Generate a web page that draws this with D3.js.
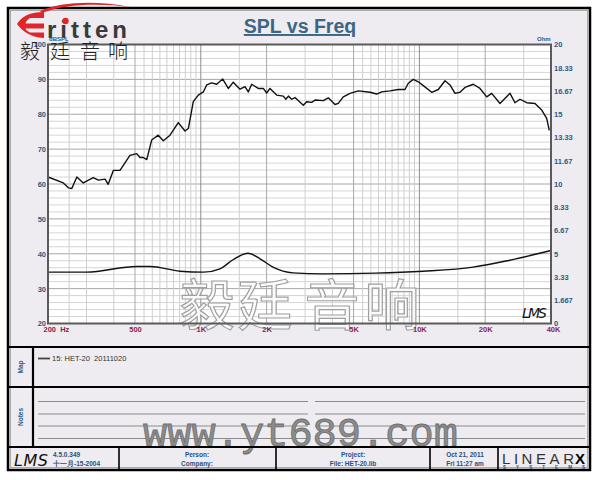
<!DOCTYPE html>
<html><head><meta charset="utf-8">
<script src="https://cdn.jsdelivr.net/npm/d3@7"></script>
<style>body{margin:0;background:#fff}svg{display:block}</style>
</head><body>
<svg id="c" width="600" height="480"></svg>
<script>
// ---- data ----
const splFreq = [200,235,248,257,271,290,322,340,365,377,398,427,474,509,527,546,566,596,639,674,723,789,847,877,924,974,1027,1064,1122,1182,1260,1336,1408,1511,1593,1649,1709,1832,1932,2002,2072,2224,2385,2450,2515,2606,2698,2944,3051,3217,3331,3634,3830,4111,4256,4487,4814,5255,5944,6377,6722,7338,8009,8594,8898,9380,9886,10420,11384,12203,13098,13804,14550,15336,16165,17648,18934,20319,21415,23376,25975,27375,28856,30961,33803,36273,38228,39283];
const splDb = [62.0,60.3,58.9,58.7,62.0,60.3,61.8,61.1,61.4,59.9,63.9,63.9,68.2,68.7,67.6,67.6,67.0,72.6,74.0,72.4,74.0,77.6,75.2,75.9,83.6,85.5,86.4,88.4,89.0,88.6,90.1,87.4,89.2,87.2,87.9,86.4,88.6,87.4,87.4,86.1,87.4,85.5,85.2,84.3,85.2,84.3,84.8,82.6,83.6,83.4,84.1,83.9,84.7,82.8,83.1,85.0,86.0,86.7,86.3,85.8,86.4,86.7,87.1,87.1,88.9,90.0,89.3,88.2,86.3,87.1,89.6,88.4,86.0,86.3,87.7,88.6,87.4,85.0,86.0,83.1,86.0,83.3,84.3,83.3,83.1,81.2,78.8,75.4];
const impFreq = [200,300,509,586,803,1030,1224,1404,1644,1866,2139,2642,3623,6300,10400,17600,25600,40000];
const impOhm = [3.68,3.68,4.09,4.09,3.75,3.68,3.92,4.57,5.04,4.64,4.04,3.63,3.56,3.61,3.75,4.04,4.52,5.23];
const dbTicks = [20,30,40,50,60,70,80,90,100];
const ohmTicks = [0,1.667,3.333,5,6.667,8.333,10,11.667,13.333,15,16.667,18.333,20];
const ohmLabels = ["0","1.667","3.33","5","6.67","8.33","10","11.67","13.33","15","16.67","18.33","20"];
const freqTicks = [200,500,1000,2000,5000,10000,20000,40000];
const freqLabels = ["200  Hz","500","1K","2K","5K","10K","20K","40K"];
const gridMajorF = [500,1000,2000,5000,10000,20000];
const gridMinorF = [250,300,400,550,600,650,700,750,800,850,900,950,1500,3000,4000,5500,6000,6500,7000,7500,8000,8500,9000,9500,15000,30000];
const legendText = "15: HET-20  20111020";

const svg = d3.select("#c");
const L=48,R=551,T=44.5,B=323.5;
const x = d3.scaleLog().domain([200,40000]).range([L,R]);
const yL = d3.scaleLinear().domain([20,100]).range([B,T]);
const yR = d3.scaleLinear().domain([0,20]).range([B,T]);
const blue="#2d5a85", maroon="#8a1f4f", panel="#eeecf0";
const nf = "'Liberation Sans Narrow','Liberation Sans',Arial,sans-serif";

// frame
svg.append("rect").attr("x",8).attr("y",8).attr("width",582).attr("height",462).attr("fill",panel).attr("stroke","#000").attr("stroke-width",2.5);
svg.append("rect").attr("x",10.5).attr("y",10.5).attr("width",577).attr("height",457).attr("fill","none").attr("stroke","#9a9a9a").attr("stroke-width",0.8);

// logo
const lg = svg.append("g");
lg.append("path").attr("d","M40,11 C60,2 95,0 130,7 C98,3 65,4 42,13 Z").attr("fill","#e0262b");
lg.append("path").attr("d","M44,12 C30,12 22,16 17,24 C22,31 30,37 44,38 L44,32.5 L30,32.5 C27,31 26,30 25.5,28.5 L44,28.5 L44,23.5 L25.5,23.5 C26,21 28,19 30,18 L44,18 Z").attr("fill","#e0262b");
lg.append("text").attr("x",47).attr("y",37.5).attr("font-family","'Liberation Sans',Arial,sans-serif").attr("font-weight","bold").attr("font-size",24).attr("fill","#3a3a3a").attr("textLength",80).attr("lengthAdjust","spacing").text("ritten");
lg.append("circle").attr("cx",65.5).attr("cy",21).attr("r",3.2).attr("fill","#e0262b");

// title
svg.append("text").attr("x",300).attr("y",33).attr("text-anchor","middle").attr("font-family","'Liberation Sans',Arial,sans-serif").attr("font-weight","bold").attr("font-size",19.5).attr("fill","#3c6685").attr("text-decoration","underline").text("SPL vs Freq");

// plot bg
svg.append("rect").attr("x",L).attr("y",T).attr("width",R-L).attr("height",B-T).attr("fill","#fff");

// grid
const g = svg.append("g");
for(let v=22; v<100; v+=2){
  g.append("line").attr("x1",L).attr("x2",R).attr("y1",yL(v)).attr("y2",yL(v)).attr("stroke", v%10===0?"#a6a6a6":"#d6d6d6").attr("stroke-width",1);
}
gridMinorF.forEach(f=>g.append("line").attr("x1",x(f)).attr("x2",x(f)).attr("y1",T).attr("y2",B).attr("stroke","#cfcfcf"));
gridMajorF.forEach(f=>g.append("line").attr("x1",x(f)).attr("x2",x(f)).attr("y1",T).attr("y2",B).attr("stroke",(f===1000||f===10000)?"#8e8e8e":"#a8a8a8"));

// watermark in plot
const wm = ["毅","廷","音","响"], wmx=[207,265,332,392];
wm.forEach((c,i)=>svg.append("text").attr("x",wmx[i]).attr("y",325).attr("text-anchor","middle").attr("font-family","'Noto Sans CJK SC',sans-serif").attr("font-size",55).attr("fill","#fbfbfb").attr("fill-opacity",0.85).attr("stroke","#a0a0a0").attr("stroke-width",1.2).text(c));

// curves
const lineSpl = d3.line().x((d,i)=>x(splFreq[i])).y((d,i)=>yL(splDb[i]));
svg.append("path").attr("d",lineSpl(splDb)).attr("fill","none").attr("stroke","#111").attr("stroke-width",1.4).attr("stroke-linejoin","round");
const lineImp = d3.line().x((d,i)=>x(impFreq[i])).y((d,i)=>yR(impOhm[i])).curve(d3.curveMonotoneX);
svg.append("path").attr("d",lineImp(impOhm)).attr("fill","none").attr("stroke","#111").attr("stroke-width",1.4);

// plot border
svg.append("rect").attr("x",L).attr("y",T).attr("width",R-L).attr("height",B-T).attr("fill","none").attr("stroke","#5a5a5a").attr("stroke-width",2);

// LMS in plot
svg.append("text").attr("x",522).attr("y",318).attr("font-family","'DejaVu Sans',sans-serif").attr("font-style","italic").attr("font-weight","300").attr("font-size",14).attr("fill","#111").attr("textLength",25).text("LMS");

// axes
const axL = d3.axisLeft(yL).tickValues(dbTicks).tickSize(0).tickPadding(2).tickFormat(d=>d);
const gl = svg.append("g").attr("transform",`translate(${L},0)`).call(axL);
const axR = d3.axisRight(yR).tickValues(ohmTicks).tickSize(0).tickPadding(3).tickFormat((d,i)=>ohmLabels[i]);
const gr = svg.append("g").attr("transform",`translate(${R},0)`).call(axR);
const axB = d3.axisBottom(x).tickValues(freqTicks).tickSize(0).tickPadding(3).tickFormat((d,i)=>freqLabels[i]);
const gb = svg.append("g").attr("transform",`translate(0,${B})`).call(axB);
[gl,gr,gb].forEach(a=>{a.select(".domain").remove();a.selectAll("text").attr("font-family",nf).attr("font-weight","bold").attr("font-size",7.5);});
gl.selectAll("text").attr("fill",blue);
gr.selectAll("text").attr("fill",blue);
gb.selectAll("text").attr("fill",maroon).style("white-space","pre");
gb.selectAll(".tick").filter(d=>d===200).select("text").attr("text-anchor","start").attr("dx",-5).attr("xml:space","preserve");
gb.selectAll(".tick").filter(d=>d===40000).select("text").attr("dx",2);
svg.append("text").attr("x",49).attr("y",41).attr("font-family",nf).attr("font-weight","bold").attr("font-size",6).attr("fill",blue).text("dBSPL");
svg.append("text").attr("x",537).attr("y",41).attr("font-family",nf).attr("font-weight","bold").attr("font-size",6).attr("fill",blue).text("Ohm");

// chinese title
const ct = ["毅","廷","音","响"], ctx=[20,50,80,108];
ct.forEach((c,i)=>svg.append("text").attr("x",ctx[i]).attr("y",59).attr("font-family","'Noto Sans CJK SC',sans-serif").attr("font-weight","300").attr("font-size",20).attr("fill","#222").text(c));

// panels
const pl = svg.append("g").attr("stroke","#000").attr("stroke-width",2.2);
[347,387,447].forEach(yy=>pl.append("line").attr("x1",8).attr("x2",590).attr("y1",yy).attr("y2",yy));
pl.append("line").attr("x1",33).attr("x2",33).attr("y1",347).attr("y2",447);
[119,276,430,498].forEach(xx=>pl.append("line").attr("x1",xx).attr("x2",xx).attr("y1",447).attr("y2",470).attr("stroke-width",1.6));
svg.append("text").attr("transform","translate(23,367) rotate(-90)").attr("text-anchor","middle").attr("font-family",nf).attr("font-weight","bold").attr("font-size",6.5).attr("fill",blue).text("Map");
svg.append("text").attr("transform","translate(23,417) rotate(-90)").attr("text-anchor","middle").attr("font-family",nf).attr("font-weight","bold").attr("font-size",6.5).attr("fill",blue).text("Notes");

// legend
svg.append("line").attr("x1",38).attr("x2",50).attr("y1",358.5).attr("y2",358.5).attr("stroke","#444").attr("stroke-width",1.8);
svg.append("text").attr("x",52).attr("y",361).attr("font-family",nf).attr("font-size",7.5).attr("fill","#333").attr("xml:space","preserve").text(legendText);

// notes lines
[401.5,414,426,438.5].forEach(yy=>{
  svg.append("line").attr("x1",38).attr("x2",308).attr("y1",yy).attr("y2",yy).attr("stroke","#8a8a8a").attr("stroke-width",1);
  svg.append("line").attr("x1",315).attr("x2",585).attr("y1",yy).attr("y2",yy).attr("stroke","#8a8a8a").attr("stroke-width",1);
});
// url watermark
svg.append("text").attr("x",143).attr("y",446).attr("font-family","'Liberation Mono','DejaVu Sans Mono',monospace").attr("font-size",40).attr("fill","#8c8c8c").attr("stroke","#6e6e6e").attr("stroke-width",0.8).attr("textLength",315).attr("lengthAdjust","spacingAndGlyphs").text("www.yt689.com");
svg.append("line").attr("x1",8).attr("x2",590).attr("y1",447).attr("y2",447).attr("stroke","#000").attr("stroke-width",2.2);

// footer
const ft = (t,xx,yy,anchor)=>svg.append("text").attr("x",xx).attr("y",yy).attr("text-anchor",anchor||"middle").attr("font-family",nf).attr("font-weight","bold").attr("font-size",6.5).attr("fill","#2a4f80").text(t);
svg.append("text").attr("x",14).attr("y",466).attr("font-family","'DejaVu Sans',sans-serif").attr("font-style","italic").attr("font-weight","300").attr("font-size",16).attr("fill","#111").attr("textLength",34).text("LMS");
ft("4.5.0.349",53,456.5,"start"); ft("十一月-15-2004",53,466,"start");
ft("Person:",197,456.5); ft("Company:",197,466);
ft("Project:",353,456.5); ft("File: HET-20.lib",353,466);
ft("Oct 21, 2011",465,456.5); ft("Fri 11:27 am",465,466);
svg.append("text").attr("x",502).attr("y",464).attr("font-family","'Liberation Sans',Arial,sans-serif").attr("font-weight","300").attr("font-size",15).attr("fill","#333").attr("textLength",72).attr("lengthAdjust","spacing").text("LINEAR");
svg.append("text").attr("x",575).attr("y",464).attr("font-family","'Liberation Sans',Arial,sans-serif").attr("font-weight","900").attr("font-size",15).attr("fill","#000").text("X");
svg.append("text").attr("x",503).attr("y",469).attr("font-family",nf).attr("font-weight","bold").attr("font-size",4.5).attr("fill","#2a4f80").attr("textLength",82).attr("lengthAdjust","spacing").text("SYSTEMS");
</script>
</body></html>
